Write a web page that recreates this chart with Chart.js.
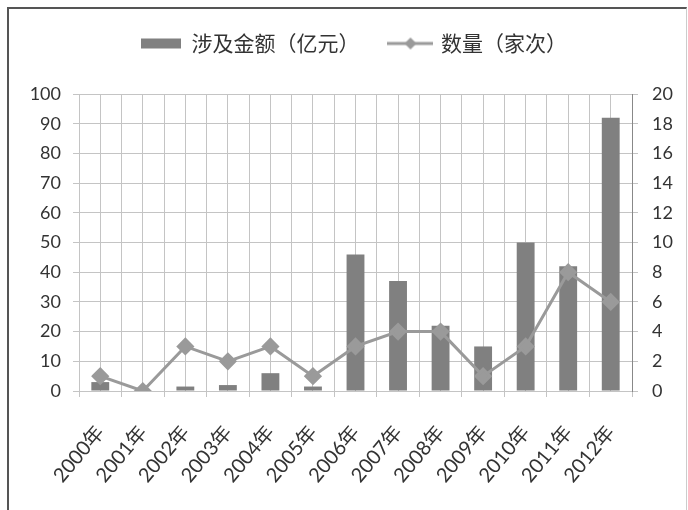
<!DOCTYPE html>
<html>
<head>
<meta charset="utf-8">
<script src="https://cdn.jsdelivr.net/npm/chart.js@4.4.1/dist/chart.umd.min.js"></script>
<style>
    html, body { margin: 0; padding: 0; background: #fff; }
    #wrap { position: relative; width: 688px; height: 510px; }
    #frame {
        position: absolute; left: 7px; top: 7px; width: 677px; height: 510px;
        border-left: 2px solid #555; border-top: 2px solid #555; border-right: 1px solid #ccc;
        pointer-events: none;
    }
</style>
</head>
<body>
<div id="wrap">
    <canvas id="chart" width="688" height="510"></canvas>
    <div id="frame"></div>
</div>
<script>
// Data
const years = ["2000年", "2001年", "2002年", "2003年", "2004年", "2005年", "2006年",
    "2007年", "2008年", "2009年", "2010年", "2011年", "2012年"];
const amountValues = [3, 0, 1.5, 2, 6, 1.5, 46, 37, 22, 15, 50, 42, 92];
const countValues = [1, 0, 3, 2, 3, 1, 3, 4, 4, 1, 3, 8, 6];
const amountLabel = "涉及金额（亿元）";
const countLabel = "数量（家次）";

const colors = {
    bar: "#808080",
    line: "#9a9a9a",
    grid: "#c4c4c4",
    text: "#333333"
};

const fontLatin = "Lato, 'Noto Sans CJK SC', sans-serif";
const fontCjk = "'Noto Sans CJK SC', sans-serif";

// Legend marker for the line series: a short line with a diamond
function makeLineSwatch() {
    const c = document.createElement("canvas");
    c.width = 46;
    c.height = 16;
    const g = c.getContext("2d");
    g.strokeStyle = colors.line;
    g.lineWidth = 3;
    g.beginPath();
    g.moveTo(0, 8);
    g.lineTo(46, 8);
    g.stroke();
    g.fillStyle = colors.line;
    g.beginPath();
    g.moveTo(23, 2);
    g.lineTo(29, 8);
    g.lineTo(23, 14);
    g.lineTo(17, 8);
    g.closePath();
    g.fill();
    return c;
}
const lineSwatch = makeLineSwatch();

// Extra space between legend and plot area
const legendGap = {
    id: "legendGap",
    afterInit(chart) {
        const fit = chart.legend.fit;
        chart.legend.fit = function() {
            fit.call(this);
            this.height += 30;
        };
    }
};

const ctx = document.getElementById("chart").getContext("2d");
new Chart(ctx, {
    data: {
        labels: years,
        datasets: [
            {
                type: "bar",
                label: amountLabel,
                data: amountValues,
                backgroundColor: colors.bar,
                borderWidth: 0,
                barPercentage: 0.42,
                categoryPercentage: 1,
                yAxisID: "y",
                order: 2
            },
            {
                type: "line",
                label: countLabel,
                data: countValues,
                borderColor: colors.line,
                backgroundColor: colors.line,
                borderWidth: 3,
                pointStyle: "rectRot",
                pointRadius: 7,
                pointBackgroundColor: colors.line,
                pointBorderColor: colors.line,
                tension: 0,
                fill: false,
                yAxisID: "y1",
                order: 1
            }
        ]
    },
    plugins: [legendGap],
    options: {
        responsive: false,
        animation: false,
        layout: { padding: { top: 2, left: 20, right: 0, bottom: 0 } },
        plugins: {
            tooltip: { enabled: false },
            legend: {
                display: true,
                position: "top",
                labels: {
                    usePointStyle: true,
                    pointStyleWidth: 40,
                    boxHeight: 10,
                    padding: 31,
                    color: colors.text,
                    font: { family: fontCjk, size: 21 },
                    sort: (a, b) => a.datasetIndex - b.datasetIndex,
                    generateLabels: function(chart) {
                        const items = Chart.defaults.plugins.legend.labels.generateLabels(chart);
                        items.forEach(item => {
                            if (item.datasetIndex === 0) {
                                item.pointStyle = "rect";
                                item.lineWidth = 0;
                            } else {
                                item.pointStyle = lineSwatch;
                            }
                        });
                        return items;
                    }
                }
            }
        },
        scales: {
            x: {
                type: "category",
                offset: true,
                grid: { offset: true, color: colors.grid, tickLength: 6 },
                border: { color: colors.grid },
                ticks: {
                    minRotation: 50,
                    maxRotation: 50,
                    padding: 24,
                    color: colors.text,
                    font: { family: fontLatin, size: 20 }
                },
                afterFit: function(scale) { scale.height = 119; }
            },
            // second category axis only for the grid lines through the category centres
            x2: {
                type: "category",
                position: "bottom",
                offset: true,
                grid: { offset: false, color: colors.grid, drawTicks: false },
                border: { display: false },
                ticks: { display: false },
                afterFit: function(scale) { scale.height = 0; }
            },
            y: {
                position: "left",
                min: 0,
                max: 100,
                ticks: {
                    stepSize: 10,
                    padding: 12,
                    color: colors.text,
                    font: { family: fontLatin, size: 18 }
                },
                grid: { color: colors.grid, tickLength: 6 },
                border: { color: colors.grid },
                afterFit: function(scale) { scale.width = 59; }
            },
            y1: {
                position: "right",
                min: 0,
                max: 20,
                ticks: {
                    stepSize: 2,
                    padding: 14,
                    color: colors.text,
                    font: { family: fontLatin, size: 18 }
                },
                grid: { drawOnChartArea: false, color: colors.grid, tickLength: 6 },
                border: { color: "#888888" },
                afterFit: function(scale) { scale.width = 56; }
            }
        }
    }
});
</script>
</body>
</html>
